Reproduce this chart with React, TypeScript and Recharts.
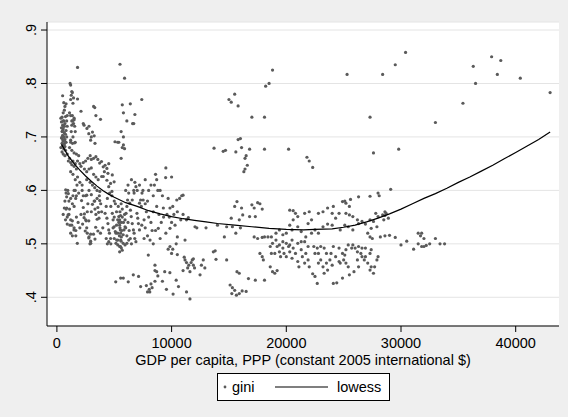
import React from 'react';
import { ScatterChart, Scatter, XAxis, YAxis, CartesianGrid, Legend } from 'recharts';

type P = [number, number];

const FONT = '"Liberation Sans", Arial, Helvetica, sans-serif';

const xTicks = [0, 10000, 20000, 30000, 40000];
const yTicks = [0.4, 0.5, 0.6, 0.7, 0.8, 0.9];
const xTitle = 'GDP per capita, PPP (constant 2005 international $)';
const seriesNames = ['gini', 'lowess'];

const poorestColumn: P[] = [
  [350, .735], [400, .728], [450, .737], [500, .777], [600, .764], [700, .757], [650, .75], [800, .762],
  [550, .745], [750, .738], [600, .73], [500, .722], [700, .725], [850, .73], [550, .715], [450, .71],
  [650, .708], [800, .712], [500, .703], [600, .70], [400, .698], [700, .695], [550, .692], [450, .688],
  [650, .687], [800, .69], [500, .683], [350, .68], [600, .678], [750, .675], [450, .672], [550, .668],
  [700, .665], [900, .668], [400, .717], [750, .705], [650, .72], [900, .74], [850, .70], [500, .695],
  [600, .685], [700, .682], [550, .73], [900, .72], [450, .70], [500, .712], [650, .695], [750, .69],
  [600, .72], [650, .567], [550, .555], [750, .545], [900, .537], [800, .565], [900, .55], [765, .601],
  [850, .588], [850, .567], [970, .554], [700, .58], [800, .595], [950, .60],
];

const lowIncomeUpper: P[] = [
  [1150, .80], [1200, .797], [1300, .785], [1350, .783], [1250, .778], [1800, .771], [1200, .770],
  [1400, .763], [1450, .773], [1500, .735], [1300, .73], [1450, .725], [1550, .72], [1350, .74],
  [1550, .689], [1100, .745], [1800, .83], [1250, .71], [1400, .70], [1200, .69], [1100, .68],
  [1300, .675], [1500, .67], [1700, .668], [1900, .665], [2100, .748], [1600, .71], [1200, .74],
  [1360, .73], [1300, .722], [1500, .732], [1200, .694], [1360, .688], [1600, .69],
  [2370, .722], [2620, .716], [2780, .706], [3000, .70], [2940, .694], [3100, .709], [3250, .702],
  [3320, .688], [3200, .757], [3300, .755], [3400, .74], [3800, .733], [2800, .72], [2300, .725],
];

const lowIncomeLower: P[] = [
  [1050, .58], [1140, .535], [1490, .526], [1780, .501], [1640, .585], [1000, .594], [1200, .585],
  [1350, .575], [1500, .57], [1050, .555], [1200, .545], [1350, .543], [1300, .535], [1500, .53],
  [1650, .525], [1200, .52], [1350, .515], [1650, .515], [1100, .565], [1700, .55], [1850, .54],
  [1400, .59], [1600, .60], [1750, .61],
];

const nearCurveLeft: P[] = [
  [1000, .655], [1100, .66], [1200, .652], [1300, .648], [1400, .655], [1500, .645], [1600, .65],
  [1700, .64], [1800, .655], [2000, .65], [2100, .645], [2300, .652], [2500, .655], [2700, .66],
  [2900, .665], [3000, .658], [3200, .66], [2400, .64], [2600, .635], [2800, .64], [3000, .642],
  [3200, .63], [3400, .625], [1200, .635], [1400, .63], [1600, .62], [1800, .625], [2000, .615],
  [2200, .61], [2600, .62], [2900, .615], [3100, .61], [3300, .605], [1500, .60], [1700, .59],
  [1900, .595], [2200, .60], [2500, .59], [2800, .60], [3000, .592], [3300, .58], [3500, .585],
  [3700, .59], [3570, .658], [3730, .651], [3890, .654], [4040, .644], [4200, .647], [4360, .641],
  [4520, .65], [4140, .635], [4450, .632], [4040, .626], [4360, .619], [4680, .613], [4990, .616],
  [4520, .607], [4830, .629], [3400, .663], [3900, .626], [3600, .62], [4800, .598], [3740, .598],
];

const midLowBand: P[] = [
  [2150, .581], [2300, .568], [2400, .556], [2550, .543], [2600, .53], [2650, .52], [2780, .511],
  [2940, .505], [2880, .50], [2370, .549], [2240, .537], [2470, .524], [3100, .574], [3250, .58],
  [3320, .565], [3400, .555], [3510, .546], [3570, .568], [3640, .559], [3730, .581], [3820, .575],
  [3380, .531], [3570, .524], [3190, .518], [3320, .509], [2940, .518], [2780, .543], [2600, .591],
  [2650, .56], [2510, .545], [2800, .513], [2950, .501], [3670, .548], [3500, .60], [3000, .56],
  [2100, .555], [2000, .53], [3900, .56], [4000, .53], [3800, .52], [2300, .59], [2700, .575],
];

const denseMiddle: P[] = [
  [4200, .557], [4360, .548], [4450, .538], [4520, .526], [4580, .52], [4680, .51], [4520, .504],
  [4830, .557], [4900, .545], [4990, .532], [5090, .523], [5150, .52], [5210, .507], [5310, .498],
  [5400, .551], [5470, .545], [5470, .535], [5530, .526], [5560, .52], [5620, .513], [5560, .507],
  [5470, .495], [5470, .485], [5620, .492], [5780, .517], [5850, .526], [5940, .532], [5940, .545],
  [6030, .557], [6100, .57], [6160, .582], [6260, .595], [6350, .576], [6410, .563], [6480, .551],
  [6570, .538], [6670, .526], [6730, .52], [6790, .51], [6890, .504], [6980, .557], [7050, .548],
  [7110, .538], [7200, .526], [7300, .582], [7360, .57], [7420, .595], [7520, .582], [7200, .576],
  [6890, .607], [6730, .595], [6570, .582], [5780, .501], [5940, .498], [6100, .501], [6260, .507],
  [5150, .501], [5310, .507], [5500, .56], [5550, .553], [5600, .54], [5500, .53], [5650, .525],
  [5450, .515], [5600, .505], [5550, .495], [5700, .488], [5400, .54], [5700, .55], [5350, .57],
  [5600, .575], [5700, .565], [5300, .545], [5200, .56], [5100, .575], [5000, .58], [4800, .59],
  [4600, .595], [4400, .585], [4300, .57], [4700, .57], [5000, .55], [4900, .53], [5200, .535],
  [5300, .52], [5800, .54], [5900, .555], [6000, .53], [6200, .54], [6100, .515], [6300, .525],
  [6400, .51], [6500, .50], [5000, .51], [4700, .50], [4400, .50], [4300, .51], [6000, .60],
  [6200, .61], [6500, .62], [6800, .615], [7000, .60], [7200, .61], [6700, .60],
];

const upperMiddle: P[] = [
  [5500, .836], [5900, .81], [7400, .77], [6400, .762], [5700, .76], [5800, .745], [6800, .742],
  [6600, .725], [6700, .725], [6100, .73], [5600, .71], [5800, .70], [5400, .69], [5700, .68],
  [5900, .678], [5600, .66], [5065, .691], [5300, .69], [5800, .685],
];

const lowOutliers: P[] = [
  [5130, .429], [5560, .436], [5790, .436], [6220, .429], [6660, .442], [7120, .439], [7300, .42],
  [7800, .422], [7900, .41], [8050, .415], [8200, .425], [8550, .43], [8700, .448], [9400, .448],
  [9850, .446], [9550, .415], [10130, .406], [10600, .42], [11300, .41], [11600, .397], [10400, .432],
  [7970, .479], [8550, .46], [8550, .45], [8100, .41], [8300, .418], [9200, .43], [8800, .44],
];

const upperMiddleIncome: P[] = [
  [8600, .63], [9480, .624], [9500, .642], [10000, .625], [10450, .582], [10880, .59], [10700, .585],
  [9860, .567], [10100, .57], [9280, .567], [11460, .549], [12040, .532], [10300, .535], [9860, .529],
  [10000, .54], [10500, .513], [11170, .507], [8840, .529], [8600, .525], [8300, .525], [8120, .507],
  [8000, .55], [7800, .56], [7600, .545], [7700, .53], [7900, .515], [8200, .54], [8400, .56],
  [8700, .57], [8900, .555], [9100, .54], [9300, .55], [9600, .555], [9800, .55], [10200, .555],
  [10500, .56], [10800, .545], [11000, .555], [11300, .545], [8000, .60], [8200, .61], [8500, .61],
  [8700, .62], [9000, .60], [8400, .59], [7700, .575], [7500, .60], [7700, .62], [7900, .58],
  [8800, .60], [9200, .59], [9700, .585], [7400, .535], [7600, .51], [8400, .50], [9000, .51],
  [10400, .50], [9500, .52], [11000, .591],
];

const lowerTail: P[] = [
  [9860, .495], [10000, .482], [9700, .49], [10100, .49], [11170, .47], [11300, .465], [11500, .46],
  [11700, .465], [11400, .455], [11800, .47], [11600, .448], [11900, .46], [12000, .455], [11100, .475],
  [11900, .472], [12480, .442], [12760, .47], [12600, .46], [12900, .455], [13640, .485], [13870, .471],
  [11000, .45], [10500, .48],
];

const scatteredHigh: P[] = [
  [13700, .679], [14500, .673], [14700, .675], [15600, .672], [15800, .695], [16000, .697], [16100, .68],
  [16400, .66], [16500, .665], [16600, .647], [16400, .64], [16300, .635], [16800, .677], [18100, .677],
  [20200, .677], [21800, .662], [22000, .655], [22300, .643], [15000, .77], [15200, .765], [15500, .78],
  [15800, .758], [17000, .737], [18100, .737], [18200, .795], [18500, .80], [18800, .825], [25300, .817],
  [28400, .817], [29500, .835], [30400, .858], [27300, .737], [27600, .67], [29800, .677], [29100, .602],
  [33000, .727], [35400, .763], [36300, .832], [36500, .80], [37900, .85], [38400, .817], [38700, .843],
  [40400, .81], [43000, .783],
];

const highMiddle: P[] = [
  [15100, .423], [15300, .418], [15500, .413], [15650, .404], [15250, .407], [15900, .407], [16150, .412],
  [16500, .411], [15700, .448], [15900, .445], [16700, .435], [17300, .432], [18100, .432], [14800, .47],
  [13800, .487], [14600, .513], [15300, .532], [15600, .52], [15700, .579], [15500, .57], [15200, .548],
  [14800, .532], [16100, .567], [16200, .554], [15900, .545], [17000, .573], [17200, .567], [17500, .577],
  [17700, .575], [17900, .565], [17300, .551], [16800, .551], [17200, .513], [17500, .51], [17900, .512],
  [18100, .513], [18400, .513], [17700, .482], [17900, .476], [18000, .47], [18600, .457], [18800, .448],
  [19000, .445], [19200, .45], [12200, .53], [13000, .53], [14000, .535], [16000, .53],
];

const richAboveCurve: P[] = [
  [20300, .563], [20600, .562], [20800, .557], [21000, .551], [20600, .545], [20300, .535], [20500, .526],
  [21600, .557], [22000, .56], [22200, .545], [21900, .538], [22500, .526], [22800, .557], [23200, .56],
  [23600, .567], [24000, .557], [24100, .57], [24300, .548], [24600, .557], [24900, .579], [25200, .576],
  [25500, .57], [25200, .557], [25500, .554], [25800, .551], [26200, .545], [26300, .538], [26600, .542],
  [26900, .537], [27300, .545], [27600, .542], [27800, .557], [28000, .551], [28400, .554], [28500, .545],
  [28700, .557], [28900, .548], [27900, .532], [27400, .529], [27100, .52], [27300, .513], [27500, .51],
  [28200, .513], [25800, .526], [25400, .532], [25100, .535], [24700, .526], [24000, .535], [23600, .537],
  [23200, .532], [22800, .52], [22200, .52], [21700, .513], [21300, .523], [21000, .532], [20000, .52],
  [19700, .517], [19400, .526], [19100, .52], [18700, .513], [25100, .58], [25600, .583], [26300, .588],
  [27300, .589], [28000, .595], [28100, .59], [28600, .56], [28600, .553],
];

const richBelowCurve: P[] = [
  [19100, .507], [19200, .495], [19000, .482], [19400, .485], [19500, .476], [19700, .492], [19800, .482],
  [20000, .476], [20200, .495], [20300, .485], [20500, .473], [20600, .492], [20800, .482], [21000, .467],
  [21100, .457], [21300, .489], [21400, .476], [21600, .464], [21700, .482], [21900, .47], [22000, .457],
  [22300, .444], [22400, .495], [22500, .482], [22700, .492], [22800, .464], [23000, .47], [23200, .457],
  [23300, .445], [22500, .439], [22700, .426], [23500, .464], [23600, .451], [23800, .47], [24000, .46],
  [24100, .426], [24400, .427], [24300, .476], [24600, .467], [24700, .464], [25000, .47], [25100, .479],
  [25200, .464], [25400, .457], [25500, .442], [24900, .436], [25700, .492], [25800, .498], [26000, .492],
  [26200, .485], [26300, .495], [26500, .482], [26600, .492], [26800, .47], [26900, .476], [27100, .464],
  [27300, .451], [27400, .457], [27600, .445], [27700, .457], [27900, .47], [28000, .476], [26900, .492],
  [27300, .482], [27400, .489], [26600, .476], [26200, .47], [26300, .457], [25900, .448], [25400, .498],
  [25200, .489], [24900, .482], [24600, .492], [24100, .495], [23900, .482], [23500, .482], [23300, .492],
  [23000, .495], [22800, .482], [21900, .495], [21600, .504], [21300, .504], [21000, .501], [20500, .507],
  [20300, .498], [20000, .501], [19700, .504], [19400, .498], [18800, .501], [18600, .495], [18700, .482],
];

const richestCluster: P[] = [
  [28600, .515], [29000, .516], [29500, .512], [30000, .498], [30500, .505], [31100, .49], [31500, .52],
  [31800, .52], [32000, .51], [31700, .515], [31500, .50], [31800, .495], [32000, .495], [32200, .497],
  [32500, .50], [33000, .51], [33400, .50], [33800, .50],
];

const lowessCurve: P[] = [
  [400, .686], [1000, .664], [1500, .65], [2000, .638], [2500, .627], [3000, .617], [3500, .608],
  [4000, .60], [4500, .593], [5000, .587], [6000, .577], [7000, .57], [8000, .562], [9000, .556],
  [10000, .551], [11000, .547], [12000, .544], [13000, .541], [14000, .538], [15500, .535], [17000, .532],
  [18500, .529], [20000, .527], [21500, .526], [22500, .527], [24000, .528], [25000, .531], [26000, .535],
  [27000, .541], [28000, .548], [29000, .556], [30000, .565], [31000, .575], [32000, .585], [33000, .594],
  [34000, .604], [35000, .615], [36000, .625], [37000, .636], [38000, .647], [39000, .659], [40000, .671],
  [41000, .683], [42000, .695], [43000, .709],
];

const toPts = (arr: P[]) => arr.map(([x, y]) => ({ x, y }));

const giniPoints = toPts([
  ...poorestColumn, ...lowIncomeUpper, ...lowIncomeLower, ...nearCurveLeft, ...midLowBand,
  ...denseMiddle, ...upperMiddle, ...lowOutliers, ...upperMiddleIncome, ...lowerTail,
  ...scatteredHigh, ...highMiddle, ...richAboveCurve, ...richBelowCurve, ...richestCluster,
]);
const lowessPoints = toPts(lowessCurve);

const MARKER = '#5a5a5a';

const Dot = (props: any) => {
  const { cx, cy } = props;
  if (cx == null || cy == null) return <g />;
  return <circle cx={cx} cy={cy} r={1.6} fill={MARKER} />;
};

const NoDot = () => <g />;

const fmtY = (v: number) => v.toFixed(1).replace(/^0/, '');

const YTick = (props: any) => {
  const { x, y, payload } = props;
  return (
    <text
      x={x}
      y={y}
      transform={`rotate(-90 ${x} ${y})`}
      textAnchor="middle"
      fontSize={14.5}
      fontFamily={FONT}
      fill="#000"
    >
      {fmtY(payload.value)}
    </text>
  );
};

const LegendBox = () => (
  <svg width={173} height={28} style={{ display: 'block' }}>
    <rect x={0.5} y={0.5} width={172} height={27} fill="#fff" stroke="#000" strokeWidth={1} />
    <circle cx={8} cy={14} r={1.4} fill={MARKER} />
    <text x={15} y={19} fontSize={14.5} fontFamily={FONT} fill="#000">{seriesNames[0]}</text>
    <line x1={58} x2={111} y1={14} y2={14} stroke="#000" strokeWidth={1.2} />
    <text x={120} y={19} fontSize={14.5} fontFamily={FONT} fill="#000">{seriesNames[1]}</text>
  </svg>
);

export default function App() {
  return (
    <div style={{ position: 'absolute', left: 0, top: 0, width: 568, height: 417, background: '#efefef' }}>
      <ScatterChart
        width={568}
        height={417}
        margin={{ top: 22, right: 9, left: 0, bottom: 51 }}
      >
        <CartesianGrid vertical={false} horizontal stroke="#e4e4e4" strokeWidth={1} fill="#ffffff" />
        <XAxis
          type="number"
          dataKey="x"
          domain={[-863, 43775]}
          ticks={xTicks}
          interval={0}
          height={40}
          tickSize={6}
          tickMargin={6}
          axisLine={{ stroke: '#000', strokeWidth: 1 }}
          tickLine={{ stroke: '#000', strokeWidth: 1 }}
          tick={{ fontSize: 14.5, fontFamily: FONT, fill: '#000' }}
          label={{ value: xTitle, position: 'insideBottom', offset: 1, fontSize: 14.5, fontFamily: FONT, fill: '#000' }}
        />
        <YAxis
          type="number"
          dataKey="y"
          domain={[0.3463, 0.915]}
          ticks={yTicks}
          interval={0}
          width={47}
          tickSize={6}
          tickMargin={5}
          axisLine={{ stroke: '#000', strokeWidth: 1 }}
          tickLine={{ stroke: '#000', strokeWidth: 1 }}
          tick={<YTick />}
        />
        <Legend
          layout="horizontal"
          verticalAlign="middle"
          align="center"
          wrapperStyle={{ left: 217, top: 373, width: 173, height: 28 }}
          content={() => <LegendBox />}
        />
        <Scatter
          name={seriesNames[0]}
          data={giniPoints}
          shape={<Dot />}
          isAnimationActive={false}
        />
        <Scatter
          name={seriesNames[1]}
          data={lowessPoints}
          line={{ stroke: '#000', strokeWidth: 1.2 }}
          shape={<NoDot />}
          isAnimationActive={false}
        />
      </ScatterChart>
    </div>
  );
}
